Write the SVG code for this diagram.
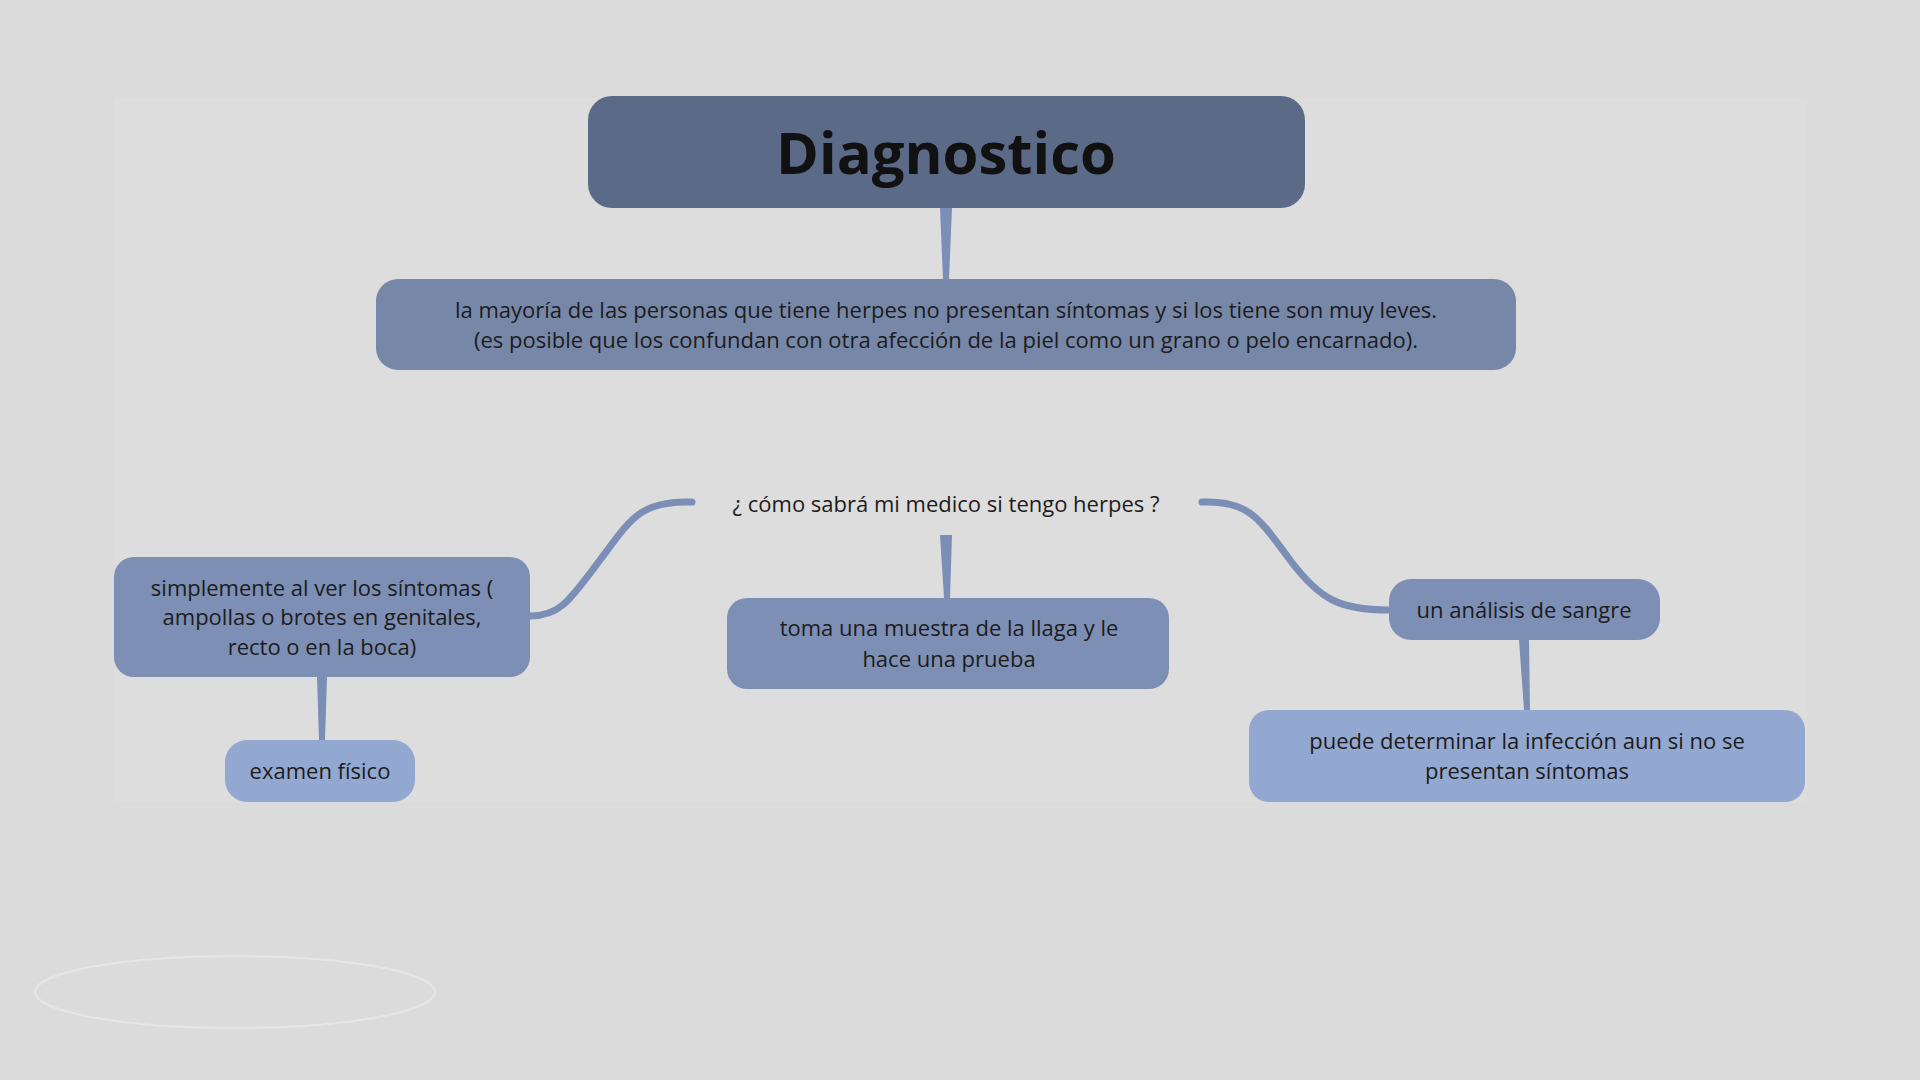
<svg xmlns="http://www.w3.org/2000/svg" width="1920" height="1080" viewBox="0 0 1920 1080">
<style>
text{font-family:"Open Sans","Noto Sans",sans-serif;fill:#1c1c1c;text-anchor:middle;font-size:22px}
.title{font-size:58px;font-weight:bold;fill:#111}
.c{fill:none;stroke:#7b8fb6;stroke-linecap:round}
.v{fill:#7b8fb6}
</style>
<rect width="1920" height="1080" fill="#dcdbdc"/>
<rect x="114" y="98" width="1693" height="704" fill="#dedddd"/>
<ellipse cx="235" cy="992" rx="200" ry="36" fill="none" stroke="#e6e6e6" stroke-width="2"/>
<g id="connectors">
<polygon class="v" points="940,208 952,208 949,279 943,279"/>
<path class="c" stroke-width="7" d="M692,502 C640,500 630,520 600,560 C570,600 560,616 530,616"/>
<path class="c" stroke-width="7" d="M1202,502 C1250,500 1260,520 1290,560 C1320,600 1340,610 1389,610"/>
<polygon class="v" points="940,535 952,535 950,598 944,598"/>
<polygon class="v" points="317,677 327,677 325,740 319,740"/>
<polygon class="v" points="1519,640 1529,640 1530,710 1524,710"/>
</g>
<g id="title"><rect x="588" y="96" width="717" height="112" rx="24" fill="#5b6b87"/><text class="title" x="946" y="174">Diagnostico</text></g>
<g id="desc"><rect x="376" y="279" width="1140" height="91" rx="22" fill="#7787a8"/>
<text x="946" y="318">la mayoría de las personas que tiene herpes no presentan síntomas y si los tiene son muy leves.</text>
<text x="946" y="348">(es posible que los confundan con otra afección de la piel como un grano o pelo encarnado).</text></g>
<g id="question"><text x="946" y="512">¿ cómo sabrá mi medico si tengo herpes ?</text></g>
<g id="sintomas"><rect x="114" y="557" width="416" height="120" rx="20" fill="#7d8fb5"/>
<text x="322" y="596">simplemente al ver los síntomas (</text>
<text x="322" y="625">ampollas o brotes en genitales,</text>
<text x="322" y="655">recto o en la boca)</text></g>
<g id="examen"><rect x="225" y="740" width="190" height="62" rx="22" fill="#93a8d0"/><text x="320" y="779">examen físico</text></g>
<g id="muestra"><rect x="727" y="598" width="442" height="91" rx="20" fill="#7d8fb5"/>
<text x="949" y="636">toma una muestra de la llaga y le</text>
<text x="949" y="667">hace una prueba</text></g>
<g id="analisis"><rect x="1389" y="579" width="271" height="61" rx="22" fill="#7d8fb5"/><text x="1524" y="618">un análisis de sangre</text></g>
<g id="puede"><rect x="1249" y="710" width="556" height="92" rx="20" fill="#93a8d0"/>
<text x="1527" y="749">puede determinar la infección aun si no se</text>
<text x="1527" y="779">presentan síntomas</text></g>
</svg>
